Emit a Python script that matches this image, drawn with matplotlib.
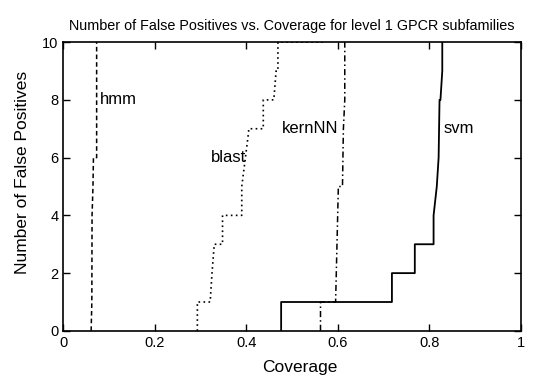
import matplotlib
matplotlib.use('Agg')
import matplotlib.pyplot as plt

plt.rcParams['font.family'] = ['Liberation Sans', 'DejaVu Sans']

# coverage (x) and number of false positives (y) for each method
hmm_cov = [0.061, 0.0625, 0.063, 0.065, 0.066, 0.073, 0.073]
hmm_fp = [0, 1, 4, 5, 6, 6, 10]

blast_cov = [0.293, 0.293, 0.321, 0.325, 0.33, 0.348, 0.348, 0.39, 0.39, 0.398, 0.405, 0.405, 0.437, 0.437, 0.46, 0.465, 0.469, 0.469, 0.568]
blast_fp = [0, 1, 1, 2, 3, 3, 4, 4, 5, 6, 6.9, 7, 7, 8, 8, 9, 9, 10, 10]

kern_cov = [0.562, 0.562, 0.595, 0.598, 0.601, 0.61, 0.612, 0.615, 0.615]
kern_fp = [0, 1, 1, 3, 5, 5, 7, 8, 10]

svm_cov = [0.476, 0.476, 0.718, 0.718, 0.768, 0.768, 0.809, 0.809, 0.816, 0.82, 0.822, 0.824, 0.828, 0.828]
svm_fp = [0, 1, 1, 2, 2, 3, 3, 4, 5, 6, 8, 8, 9, 10]

fig = plt.figure(figsize=(5.45, 3.76), dpi=100)
ax = fig.add_axes([0.116, 0.12, 0.84, 0.768])

ax.plot(hmm_cov, hmm_fp, color='black', lw=1.1, linestyle=(0, (3, 2)))
ax.plot(blast_cov, blast_fp, color='black', lw=1.2, linestyle=(0, (1, 2)))
ax.plot(kern_cov, kern_fp, color='black', lw=1.1, linestyle=(0, (4, 2, 1, 2)))
ax.plot(svm_cov, svm_fp, color='black', lw=1.3, linestyle='-')

ax.text(0.08, 8, 'hmm', fontsize=12, va='center', ha='left')
ax.text(0.40, 6, 'blast', fontsize=12, va='center', ha='right')
ax.text(0.60, 7, 'kernNN', fontsize=12, va='center', ha='right')
ax.text(0.83, 7, 'svm', fontsize=12, va='center', ha='left')

ax.set_xlim(0, 1)
ax.set_ylim(0, 10)
ax.set_xticks([0, 0.2, 0.4, 0.6, 0.8, 1])
ax.set_xticklabels(['0', '0.2', '0.4', '0.6', '0.8', '1'])
ax.set_yticks([0, 2, 4, 6, 8, 10])
ax.tick_params(direction='in', top=True, right=True, labelsize=10.5, length=5, width=1)
for s in ax.spines.values():
    s.set_linewidth(1.2)

ax.set_xlabel('Coverage', fontsize=12.5)
ax.xaxis.set_label_coords(0.517, -0.1)
ax.set_ylabel('Number of False Positives', fontsize=12.5)
ax.yaxis.set_label_coords(-0.073, 0.548)
ax.set_title('Number of False Positives vs. Coverage for level 1 GPCR subfamilies', fontsize=10.4, pad=9)

fig.savefig('out.png', dpi=100)
